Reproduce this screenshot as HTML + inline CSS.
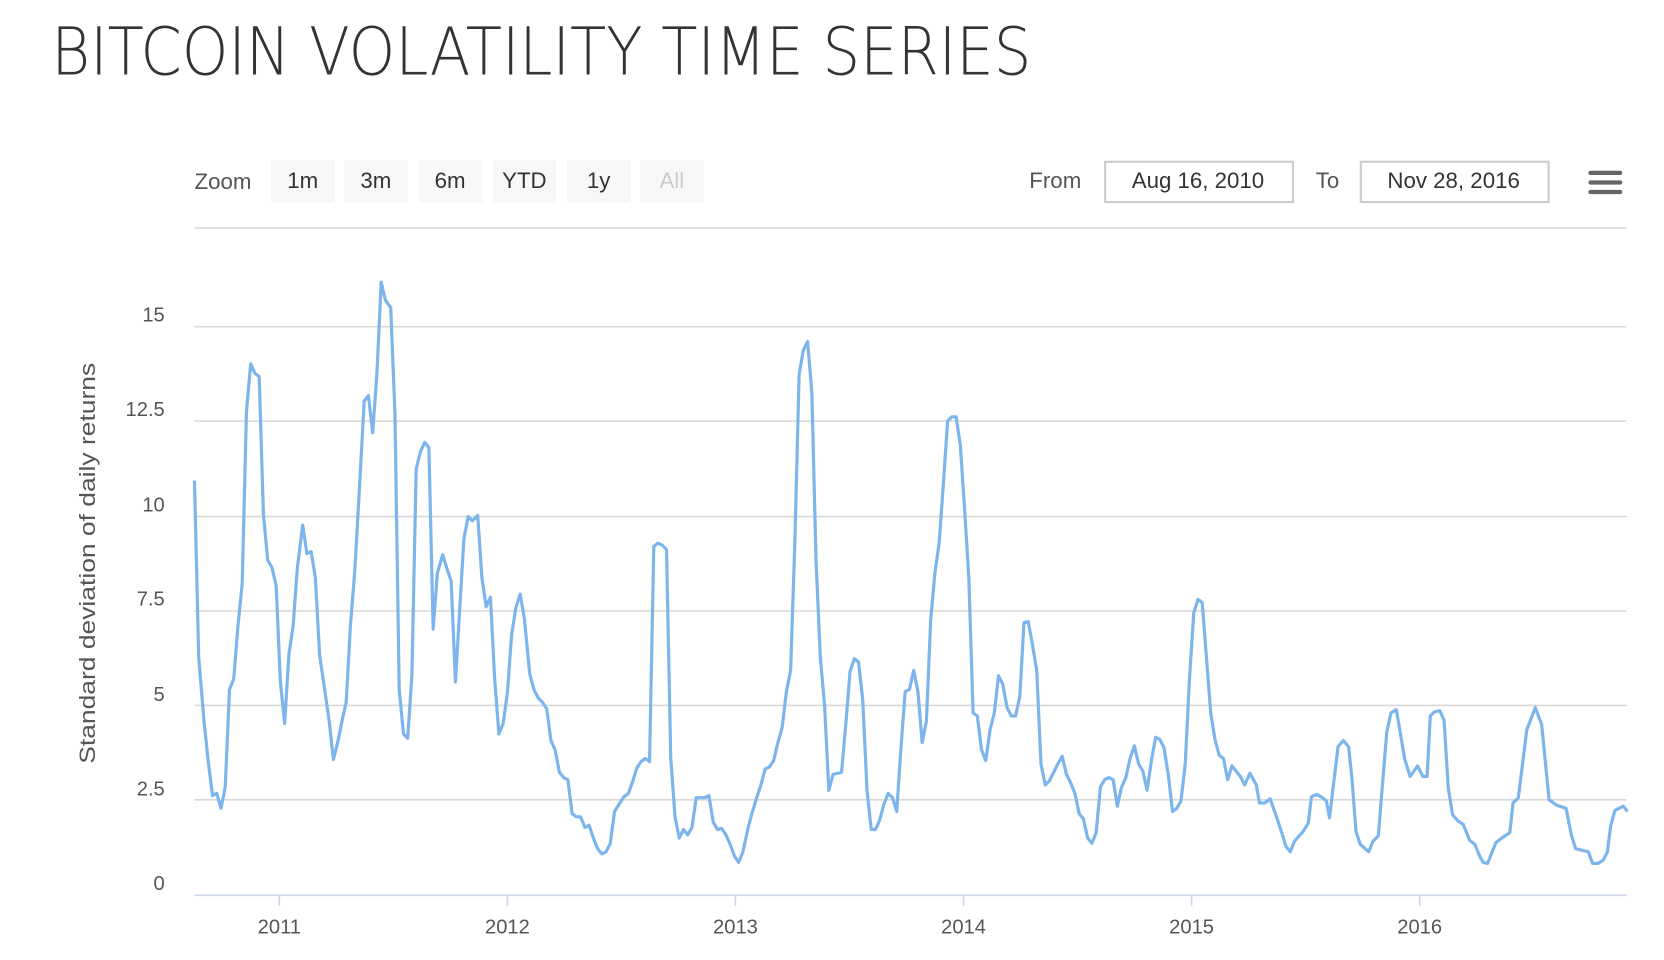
<!DOCTYPE html>
<html><head><meta charset="utf-8"><style>html,body{margin:0;padding:0;background:#fff}svg{display:block}</style></head>
<body>
<svg width="1664" height="960" viewBox="0 0 1568 905" xmlns="http://www.w3.org/2000/svg" font-family="'Liberation Sans', 'DejaVu Sans', sans-serif">
<rect width="1568" height="905" fill="#fff"/>
<text x="48" y="70" font-size="62" font-family="'DejaVu Sans ExtraLight', 'DejaVu Sans', sans-serif" font-weight="200" fill="#333" textLength="924" lengthAdjust="spacingAndGlyphs">BITCOIN VOLATILITY TIME SERIES</text>
<text x="183" y="178" font-size="21" fill="#555">Zoom</text>
<g font-size="21" fill="#333" text-anchor="middle">
<rect x="255" y="151" width="60" height="40" fill="#f7f7f7"/><text x="285" y="177">1m</text>
<rect x="324" y="151" width="60" height="40" fill="#f7f7f7"/><text x="354" y="177">3m</text>
<rect x="394" y="151" width="60" height="40" fill="#f7f7f7"/><text x="424" y="177">6m</text>
<rect x="464" y="151" width="60" height="40" fill="#f7f7f7"/><text x="494" y="177">YTD</text>
<rect x="534" y="151" width="60" height="40" fill="#f7f7f7"/><text x="564" y="177">1y</text>
<rect x="603" y="151" width="60" height="40" fill="#f7f7f7"/><text x="633" y="177" fill="#ccc">All</text>
</g>
<text x="970" y="177" font-size="21" fill="#555">From</text>
<rect x="1041.5" y="152.5" width="177" height="38" fill="#fff" stroke="#ccc" stroke-width="2"/>
<text x="1129" y="177" font-size="21" fill="#333" text-anchor="middle">Aug 16, 2010</text>
<text x="1240" y="177" font-size="21" fill="#555">To</text>
<rect x="1282.5" y="152.5" width="177" height="38" fill="#fff" stroke="#ccc" stroke-width="2"/>
<text x="1370" y="177" font-size="21" fill="#333" text-anchor="middle">Nov 28, 2016</text>
<g stroke="#666" stroke-width="4" stroke-linecap="round"><line x1="1499" y1="163" x2="1527" y2="163"/><line x1="1499" y1="172" x2="1527" y2="172"/><line x1="1499" y1="181" x2="1527" y2="181"/></g>
<g stroke="#d8d8d8" stroke-width="1.5">
<line x1="183" y1="215" x2="1533" y2="215"/>
<line x1="183" y1="308" x2="1533" y2="308"/>
<line x1="183" y1="397" x2="1533" y2="397"/>
<line x1="183" y1="487" x2="1533" y2="487"/>
<line x1="183" y1="576" x2="1533" y2="576"/>
<line x1="183" y1="665" x2="1533" y2="665"/>
<line x1="183" y1="754" x2="1533" y2="754"/>
</g>
<line x1="183" y1="844" x2="1533" y2="844" stroke="#ccd6eb" stroke-width="1.5"/>
<g stroke="#ccd6eb" stroke-width="1.5">
<line x1="263" y1="844" x2="263" y2="854"/><line x1="478" y1="844" x2="478" y2="854"/><line x1="693" y1="844" x2="693" y2="854"/><line x1="908" y1="844" x2="908" y2="854"/><line x1="1123" y1="844" x2="1123" y2="854"/><line x1="1338" y1="844" x2="1338" y2="854"/>
</g>
<g font-size="19" fill="#555" text-anchor="end">
<text x="155" y="303">15</text><text x="155" y="392">12.5</text><text x="155" y="482">10</text><text x="155" y="571">7.5</text><text x="155" y="661">5</text><text x="155" y="750">2.5</text><text x="155" y="839">0</text>
</g>
<g font-size="19" fill="#555" text-anchor="middle">
<text x="263" y="880">2011</text><text x="478" y="880">2012</text><text x="693" y="880">2013</text><text x="908" y="880">2014</text><text x="1123" y="880">2015</text><text x="1338" y="880">2016</text>
</g>
<text transform="translate(89,531) rotate(-90)" font-size="21" fill="#555" text-anchor="middle" textLength="378" lengthAdjust="spacingAndGlyphs">Standard deviation of daily returns</text>
<polyline fill="none" stroke="#7cb5ec" stroke-width="3" stroke-linejoin="round" points="183,453 187,620 192,680 196,718 200,750 204,748 208,762 212,742 216,650 220,640 224,590 228,550 232,388 236,343 240,352 244,355 248,485 252,528 256,535 260,552 264,643 268,682 272,617 276,590 280,535 285,495 289,522 293,520 297,545 301,618 305,645 310,680 314,716 318,700 322,680 326,662 330,590 334,540 338,470 343,378 347,373 351,408 355,352 359,266 363,283 368,290 372,390 376,650 380,692 384,696 388,636 392,442 396,426 400,417 404,422 408,593 412,540 417,523 421,536 425,548 429,643 433,575 437,508 441,487 445,491 450,486 454,545 458,572 462,563 466,640 470,692 474,682 478,653 482,598 486,573 490,560 494,583 499,635 503,650 507,658 511,662 515,668 519,698 523,707 527,728 531,733 535,735 539,767 543,770 547,770 551,780 555,778 559,790 563,800 567,805 571,803 575,795 579,765 584,757 588,751 592,748 596,737 600,724 604,718 608,715 612,718 616,515 620,512 624,514 628,518 632,715 636,770 640,790 644,782 648,787 652,780 656,752 660,752 664,752 668,750 672,775 676,782 680,781 684,787 688,796 692,807 696,813 700,803 705,780 709,765 713,752 717,740 721,725 725,723 729,717 733,700 737,686 741,652 745,632 749,510 753,353 757,330 761,322 765,370 769,530 773,620 777,665 781,745 785,730 789,729 793,728 797,683 801,633 805,621 809,624 813,660 817,745 821,782 825,782 829,773 833,758 837,748 841,752 845,765 849,705 853,652 857,650 861,632 865,652 869,700 873,680 877,585 881,540 885,512 889,456 893,397 897,393 901,393 905,420 909,480 913,545 917,672 921,675 925,707 929,717 933,688 937,672 941,637 945,645 949,667 953,675 957,675 961,657 965,587 969,586 973,608 977,632 981,720 985,740 989,736 993,728 997,720 1001,713 1005,730 1009,738 1013,748 1017,767 1021,772 1025,790 1029,795 1033,785 1037,742 1041,735 1045,733 1049,735 1053,760 1057,742 1061,733 1065,715 1069,703 1073,720 1077,727 1081,745 1085,718 1089,695 1093,697 1097,705 1101,730 1105,765 1109,762 1113,755 1117,720 1121,640 1125,578 1129,565 1133,568 1137,620 1141,672 1145,697 1149,712 1153,715 1157,735 1161,722 1165,727 1169,732 1173,740 1178,729 1184,740 1187,757 1192,757 1197,753 1203,770 1208,785 1212,798 1216,803 1220,793 1228,784 1233,776 1236,751 1241,749 1245,751 1250,755 1253,771 1261,704 1266,698 1271,704 1274,732 1278,784 1282,796 1290,803 1294,793 1299,788 1307,690 1311,672 1316,669 1324,716 1329,732 1336,722 1341,732 1345,732 1348,675 1352,671 1357,670 1361,679 1365,743 1369,768 1374,774 1379,777 1385,792 1390,796 1395,808 1398,813 1402,814 1410,794 1417,789 1423,785 1426,757 1431,752 1439,688 1447,667 1453,683 1460,754 1467,759 1476,762 1481,787 1485,800 1497,803 1501,814 1506,814 1511,811 1515,803 1518,779 1522,764 1530,760 1534,765"/>
</svg>
</body></html>
